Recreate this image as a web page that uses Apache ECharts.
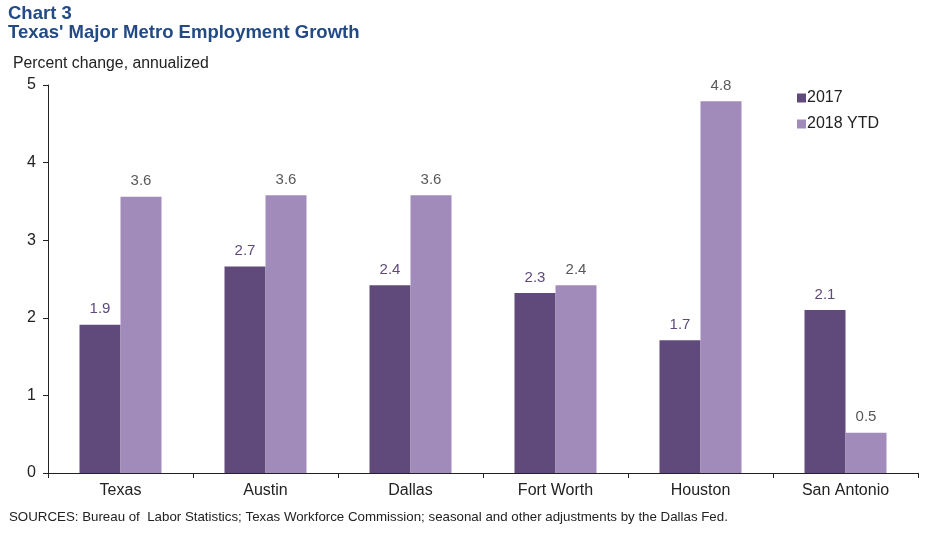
<!DOCTYPE html>
<html>
<head>
<meta charset="utf-8">
<script src="https://cdn.jsdelivr.net/npm/echarts@6/dist/echarts.min.js"></script>
<style>html,body{margin:0;padding:0;background:#fff;}#c{width:949px;height:541px;}</style>
</head>
<body>
<div id="c"></div>
<script>
const categories = ['Texas', 'Austin', 'Dallas', 'Fort Worth', 'Houston', 'San Antonio'];
const series2017 = [1.91, 2.66, 2.42, 2.32, 1.71, 2.10];
const series2018 = [3.56, 3.58, 3.58, 2.42, 4.79, 0.52];
const yTicks = [0, 1, 2, 3, 4, 5];

const chart = echarts.init(document.getElementById('c'));
const FONT = '"Liberation Sans", Arial, sans-serif';
chart.setOption({
  animation: false,
  textStyle: { fontFamily: FONT },
  title: [
    { text: 'Chart 3', left: 3, top: -1, textStyle: { fontFamily: FONT, fontSize: 18.5, fontWeight: 'bold', color: '#244a86' } },
    { text: "Texas' Major Metro Employment Growth", left: 3, top: 18, textStyle: { fontFamily: FONT, fontSize: 18.5, fontWeight: 'bold', color: '#244a86' } },
    { text: 'Percent change, annualized', left: 8, top: 51, textStyle: { fontFamily: FONT, fontSize: 15.8, fontWeight: 'normal', color: '#222' } },
    { text: 'SOURCES: Bureau of  Labor Statistics; Texas Workforce Commission; seasonal and other adjustments by the Dallas Fed.', left: 4, top: 506, textStyle: { fontFamily: FONT, fontSize: 13.3, fontWeight: 'normal', color: '#222' } }
  ],
  legend: {
    orient: 'vertical', left: 792, top: 85, itemWidth: 9, itemHeight: 9, itemGap: 10,
    icon: 'rect',
    textStyle: { fontFamily: FONT, fontSize: 16, color: '#222', padding: [0, 0, 0, -4] },
    data: ['2017', '2018 YTD']
  },
  grid: { left: 48, right: 31, top: 85, bottom: 68, containLabel: false },
  xAxis: {
    type: 'category', data: categories,
    axisLine: { lineStyle: { color: '#222', width: 1 } },
    axisTick: { show: true, length: 5, lineStyle: { color: '#222' } },
    axisLabel: { fontFamily: FONT, fontSize: 16, color: '#222', margin: 10 }
  },
  yAxis: {
    type: 'value', min: yTicks[0], max: yTicks[yTicks.length - 1], interval: 1,
    axisLine: { show: true, lineStyle: { color: '#222', width: 1 } },
    axisTick: { show: true, length: 5, lineStyle: { color: '#222' } },
    splitLine: { show: false },
    axisLabel: { fontFamily: FONT, fontSize: 16, color: '#222', margin: 12 }
  },
  series: [
    {
      name: '2017', type: 'bar', data: series2017, barWidth: 41, barGap: '0%',
      itemStyle: { color: '#604a7b' },
      label: { show: true, position: 'top', distance: 8, fontFamily: FONT, fontSize: 15, color: '#604a7b', formatter: p => p.value.toFixed(1) }
    },
    {
      name: '2018 YTD', type: 'bar', data: series2018, barWidth: 41, barGap: '0%',
      itemStyle: { color: '#a18bba' },
      label: { show: true, position: 'top', distance: 8, fontFamily: FONT, fontSize: 15, color: '#595959', formatter: p => p.value.toFixed(1) }
    }
  ]
});
</script>
</body>
</html>
